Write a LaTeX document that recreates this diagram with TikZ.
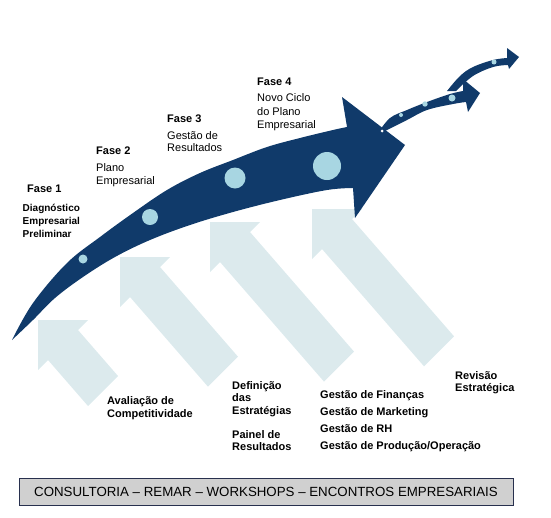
\documentclass[tikz,border=0pt]{standalone}
\usepackage{fontspec}
\setmainfont{Liberation Sans}
\definecolor{navy}{RGB}{16,58,106}
\definecolor{dot}{RGB}{168,214,226}
\definecolor{pale}{RGB}{220,234,237}
\definecolor{boxgrey}{RGB}{208,208,208}
\definecolor{boxline}{RGB}{40,48,78}
% pale block arrow pointing up-left: apex (#1,#2), shaft length #3
\newcommand\risearrow[3]{%
  \fill[pale] (#1,#2) -- ++(50,0) -- ++(-10,10) -- ++({#3},{1.15*#3})
    -- ++(-30,30) -- ++({-#3},{-1.15*#3}) -- ++(-10,10) -- cycle;}
% stacked lines whose baseline is that of the first line
\newcommand\stacklines[1]{\begin{tabular}[t]{@{}l@{}}#1\end{tabular}}
\begin{document}
\begin{tikzpicture}[x=1pt,y=-1pt,
  phase/.style={font=\fontsize{11}{13}\selectfont\bfseries, anchor=base west, inner sep=0pt},
  note/.style={anchor=base west, inner sep=0pt},
  task/.style={anchor=base west, inner sep=0pt},
  dotc/.style={fill=dot}]
\useasboundingbox (0,0) rectangle (551,517);

% pale rising arrows
\risearrow{38}{320}{40}
\risearrow{120}{257}{78}
\risearrow{210}{222}{104}
\risearrow{312}{209}{102}

% main curved arrow
\fill[navy] plot[smooth, tension=0.6] coordinates {(12,340) (33,303) (67,263) (100,237) (133,213) (167,190) (200,173) (233,160) (267,147) (300,138) (333,130) (347,127)}
  -- (342,97) -- (405,145) -- (355,218) -- (353,188)
  -- plot[smooth, tension=0.6] coordinates {(353,188) (327,190) (280,200) (233,212) (190,225) (150,240) (115,257) (83,277) (55,298) (33,320) (12,340)} -- cycle;

% small branching arrows
\fill[navy] plot[smooth, tension=0.6] coordinates {(378,133) (390,118) (407,110) (427,102) (450,94) (463,91)}
  -- (463,79) -- (480,93) -- (468,112) -- (466,102)
  -- plot[smooth, tension=0.6] coordinates {(466,102) (453,104) (427,110) (407,120) (383,132) (378,133)} -- cycle;
\fill[navy] plot[smooth, tension=0.6] coordinates {(447,91) (460,76) (473,67) (493,60) (507,58)}
  -- (507,48) -- (519,57) -- (509,69) -- (508,65)
  -- plot[smooth, tension=0.6] coordinates {(508,65) (493,67) (473,76) (456,91)} -- cycle;

% milestones
\fill[dotc] (83,259) circle (4.5);
\fill[dotc] (150,217) circle (8);
\fill[dotc] (235,178) circle (10.5);
\fill[dotc] (327,166) circle (14);
\fill[white] (382,131) circle (1.5);
\fill[dotc] (401,115) circle (2);
\fill[dotc] (425,104) circle (2.7);
\fill[dotc] (452,98) circle (3.5);
\fill[dotc] (494,62) circle (2.5);

% phases
\node[phase] (f1) at (27,192.5) {Fase 1};
\node[task, font=\fontsize{10}{12.8}\selectfont\bfseries] (f1t) at (22.5,211.5) {\stacklines{Diagnóstico\\Empresarial\\Preliminar}};
\node[phase] (f2) at (96,154.7) {Fase 2};
\node[note, font=\fontsize{11}{12.4}\selectfont] (f2t) at (96,171.7) {\stacklines{Plano\\Empresarial}};
\node[phase] (f3) at (167,122.3) {Fase 3};
\node[note, font=\fontsize{11}{12.7}\selectfont] (f3t) at (167,139) {\stacklines{Gestão de\\Resultados}};
\node[phase] (f4) at (257,85.7) {Fase 4};
\node[note, font=\fontsize{11}{13.3}\selectfont] (f4t) at (257,101.7) {\stacklines{Novo Ciclo\\do Plano\\Empresarial}};

% supporting activities
\node[task, font=\fontsize{11}{13}\selectfont\bfseries] (a1) at (107,404) {\stacklines{Avaliação de\\Competitividade}};
\node[task, font=\fontsize{11}{12.5}\selectfont\bfseries] (a2) at (232,389) {\stacklines{Definição\\das\\Estratégias}};
\node[task, font=\fontsize{11}{12}\selectfont\bfseries] (a3) at (232,438) {\stacklines{Painel de\\Resultados}};
\node[task, font=\fontsize{11}{17.2}\selectfont\bfseries] (a4) at (320,398.3) {\stacklines{Gestão de Finanças\\Gestão de Marketing\\Gestão de RH\\Gestão de Produção/Operação}};
\node[task, font=\fontsize{11}{12.7}\selectfont\bfseries] (a5) at (455,379) {\stacklines{Revisão\\Estratégica}};

% footer
\node[draw=boxline, line width=0.9pt, fill=boxgrey, minimum width=494pt, minimum height=27pt,
  inner sep=0pt, font=\fontsize{13.3}{15}\selectfont] (foot) at (266,491.5)
  {CONSULTORIA – REMAR – WORKSHOPS – ENCONTROS EMPRESARIAIS};
\end{tikzpicture}
\end{document}
